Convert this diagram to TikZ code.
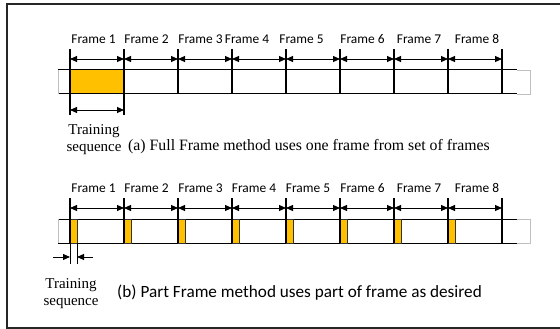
\documentclass[tikz,border=0pt]{standalone}
\usepackage{fontspec}
\newfontfamily\timesfont{Liberation Serif}
\newfontfamily\calibri{Carlito}
\usetikzlibrary{arrows.meta}
\definecolor{gold}{HTML}{FFC000}

\tikzset{
	dimarrow/.style={{Triangle[length=7pt,width=6pt]}-{Triangle[length=7pt,width=6pt]}, line width=0.9pt},
	onearrow/.style={-{Triangle[length=7pt,width=6pt]}, line width=0.9pt},
	frametick/.style={line width=1.3pt},
	lbl/.style={font=\calibri\fontsize{13.4}{15}\selectfont, inner sep=0pt},
	romantext/.style={font=\timesfont\fontsize{15}{17}\selectfont, inner sep=0pt}
}

\begin{document}
\begin{tikzpicture}[x=1pt,y=-1pt]
	\useasboundingbox (0,0) rectangle (560,329);
	\draw[line width=1.2pt, black!85] (7,4) rectangle (566,328);

	% (a) full frame
	\fill[gold] (70,70) rectangle (124,94);
	\draw[line width=1pt] (58,70) -- (517,70) (58,94) -- (517,94);
	\draw[gray!50] (58,70) -- (58,94) (517,70) -- (530,70) -- (530,94) -- (517,94);
	\foreach \i in {0,...,8}{
		\coordinate (a\i) at (70+54*\i,59);
		\draw[frametick] (70+54*\i,49) -- (70+54*\i,94);
	}
	\foreach \i [count=\j] in {0,...,7}
		\draw[dimarrow] (a\i) -- (a\j);
	\foreach \n/\x in {1/93.5,2/146.5,3/200.5,4/247,5/301.5,6/362.5,7/419,8/477}
		\node[lbl] (fa\n) at (\x,39) {Frame \n};
	\draw[frametick] (70,94) -- (70,115) (124,94) -- (124,115);
	\coordinate (ta1) at (70,110);
	\coordinate (ta2) at (124,110);
	\draw[dimarrow] (ta1) -- (ta2);
	\node[romantext, align=center] (traina) at (94,140) {Training\\sequence};
	\node[romantext, font=\timesfont\fontsize{15.8}{16}\selectfont, anchor=west] (capa) at (128,147) {(a) Full Frame method uses one frame from set of frames};

	% (b) part frame
	\draw[line width=1pt] (58,219) -- (517,219) (58,243) -- (517,243);
	\draw[gray!50] (58,219) -- (58,243) (517,219) -- (530,219) -- (530,243) -- (517,243);
	\foreach \i in {0,...,7}
		\filldraw[fill=gold, draw=black!80, line width=0.8pt] (70+54*\i,219) rectangle (77+54*\i,243);
	\foreach \i in {0,...,8}{
		\coordinate (b\i) at (70+54*\i,208);
		\draw[frametick] (70+54*\i,198) -- (70+54*\i,243);
	}
	\foreach \i [count=\j] in {0,...,7}
		\draw[dimarrow] (b\i) -- (b\j);
	\foreach \n/\x in {1/93.5,2/146.5,3/200.5,4/254,5/308,6/362.5,7/419,8/477}
		\node[lbl] (fb\n) at (\x,188) {Frame \n};
	\draw[line width=1pt] (70,243) -- (70,264) (77,243) -- (77,264);
	\coordinate (tb1) at (53,257);
	\coordinate (tb2) at (70,257);
	\coordinate (tb3) at (93,257);
	\coordinate (tb4) at (77,257);
	\draw[onearrow] (tb1) -- (tb2);
	\draw[onearrow] (tb3) -- (tb4);
	\node[romantext, align=center] (trainb) at (71,294) {Training\\sequence};
	\node[lbl, font=\calibri\fontsize{17.2}{18}\selectfont, anchor=west] (capb) at (117,293) {(b) Part Frame method uses part of frame as desired};
\end{tikzpicture}
\end{document}
